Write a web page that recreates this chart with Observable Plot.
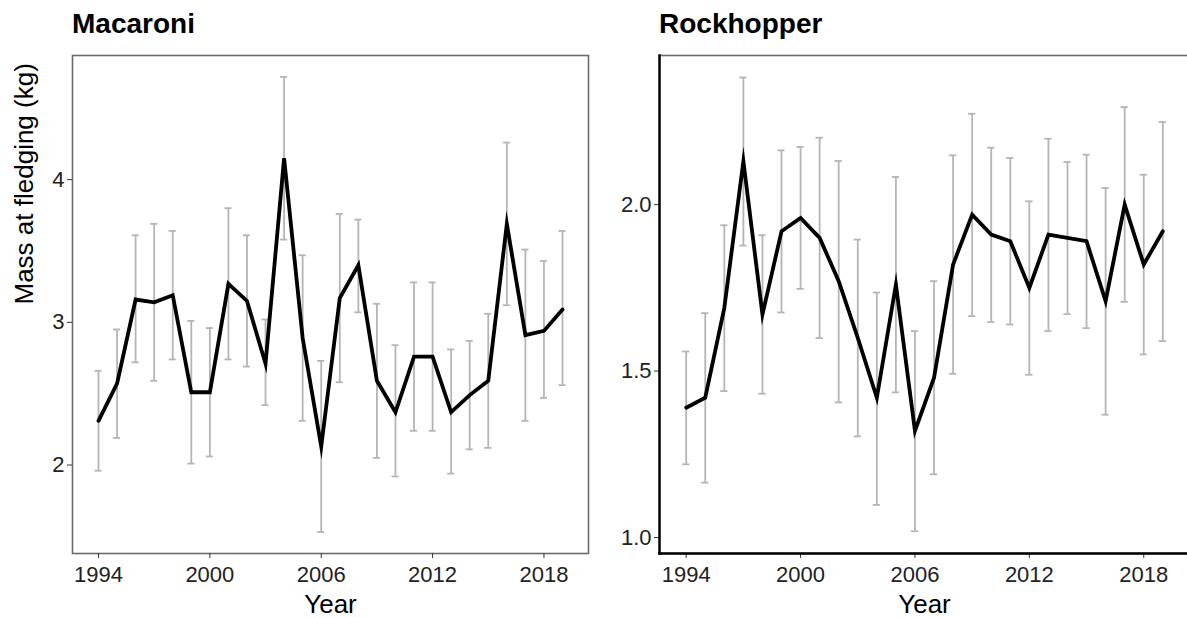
<!DOCTYPE html>
<html>
<head>
<meta charset="utf-8">
<script src="https://cdn.jsdelivr.net/npm/d3@7"></script>
<script src="https://cdn.jsdelivr.net/npm/@observablehq/plot@0.6"></script>
<style>
  html, body { margin: 0; padding: 0; background: #fff; overflow: hidden; width: 1187px; height: 618px; }
  .panel { position: absolute; top: 0; width: 600px; height: 618px; }
  .title { position: absolute; top: 10px; font-family: "Liberation Sans", Arial, sans-serif; font-weight: bold; font-size: 28px; line-height: 28px; color: #000; white-space: nowrap; }
  .panel svg { position: absolute; top: 45px; left: 0; }
</style>
</head>
<body>
<div id="mac" class="panel" style="left:0px"></div>
<div id="rock" class="panel" style="left:590px"></div>
<script>
// Breeding seasons
const years = [1994, 1995, 1996, 1997, 1998, 1999, 2000, 2001, 2002, 2003, 2004, 2005, 2006,
               2007, 2008, 2009, 2010, 2011, 2012, 2013, 2014, 2015, 2016, 2017, 2018, 2019];
const yearTicks = [1994, 2000, 2006, 2012, 2018];

// Macaroni penguin: mean fledging mass (kg) with lower/upper error bounds
const macMean = [2.31, 2.57, 3.16, 3.14, 3.19, 2.51, 2.51, 3.27, 3.15, 2.71, 4.15, 2.89, 2.13,
                 3.17, 3.40, 2.59, 2.37, 2.76, 2.76, 2.37, 2.49, 2.59, 3.69, 2.91, 2.94, 3.09];
const macLow  = [1.96, 2.19, 2.72, 2.59, 2.74, 2.01, 2.06, 2.74, 2.69, 2.42, 3.58, 2.31, 1.53,
                 2.58, 3.07, 2.05, 1.92, 2.24, 2.24, 1.94, 2.11, 2.12, 3.12, 2.31, 2.47, 2.56];
const macHigh = [2.66, 2.95, 3.61, 3.69, 3.64, 3.01, 2.96, 3.80, 3.61, 3.02, 4.72, 3.47, 2.73,
                 3.76, 3.72, 3.13, 2.84, 3.28, 3.28, 2.81, 2.87, 3.06, 4.26, 3.51, 3.43, 3.64];
const macTicks = [2, 3, 4];

// Rockhopper penguin: mean fledging mass (kg) with lower/upper error bounds
const rockMean = [1.39, 1.42, 1.69, 2.13, 1.67, 1.92, 1.96, 1.90, 1.77, 1.60, 1.42, 1.76, 1.32,
                  1.48, 1.82, 1.97, 1.91, 1.89, 1.75, 1.91, 1.90, 1.89, 1.71, 2.00, 1.82, 1.92];
const rockLow  = [1.22, 1.165, 1.44, 1.877, 1.432, 1.676, 1.747, 1.599, 1.406, 1.304, 1.098, 1.436, 1.019,
                  1.19, 1.492, 1.665, 1.647, 1.64, 1.489, 1.62, 1.671, 1.629, 1.369, 1.708, 1.55, 1.59];
const rockHigh = [1.559, 1.674, 1.938, 2.382, 1.908, 2.163, 2.173, 2.201, 2.131, 1.895, 1.736, 2.083, 1.62,
                  1.77, 2.148, 2.273, 2.171, 2.14, 2.01, 2.198, 2.128, 2.15, 2.05, 2.293, 2.09, 2.248];
const rockTicks = [1.0, 1.5, 2.0];

const FONT = '"Liberation Sans", Arial, sans-serif';
const CAP = 0.19; // half-width of error-bar caps, in years

function rows(mean, low, high) {
  return years.map((year, i) => ({year, mean: mean[i], low: low[i], high: high[i]}));
}

function panel({id, title, data, yDomain, yTicks, yFormat, marginLeft, marginRight, yLabel, classic}) {
  const marks = [
    Plot.frame({stroke: "#6b6b6b", strokeWidth: 1.6}),
    // error bars
    Plot.ruleX(data, {x: "year", y1: "low", y2: "high", stroke: "#b5b5b5", strokeWidth: 1.8}),
    Plot.ruleY(data, {y: "low", x1: d => d.year - CAP, x2: d => d.year + CAP, stroke: "#b5b5b5", strokeWidth: 1.8}),
    Plot.ruleY(data, {y: "high", x1: d => d.year - CAP, x2: d => d.year + CAP, stroke: "#b5b5b5", strokeWidth: 1.8}),
    // mean trajectory
    Plot.line(data, {x: "year", y: "mean", stroke: "#000", strokeWidth: 3.8, strokeLinejoin: "miter", strokeMiterlimit: 10}),
    Plot.axisX({ticks: yearTicks, tickFormat: "d", tickSize: 5, tickPadding: 8, label: null, stroke: "#333", fill: "#222", fontSize: 22}),
    Plot.axisY({ticks: yTicks, tickFormat: yFormat, tickSize: 5, tickPadding: 3, label: null, stroke: "#333", fill: "#222", fontSize: 22}),
    Plot.text(["Year"], {frameAnchor: "bottom", dy: 51, fontSize: 26, fill: "#000", lineAnchor: "middle"})
  ];
  if (classic) {
    marks.push(Plot.frame({anchor: "left", stroke: "#000", strokeWidth: 2.4}));
    marks.push(Plot.frame({anchor: "bottom", stroke: "#000", strokeWidth: 2.4}));
  }
  if (yLabel) {
    marks.push(Plot.text([yLabel], {frameAnchor: "left", rotate: -90, dx: -48, fontSize: 26, fill: "#000", lineAnchor: "middle"}));
  }
  const svg = Plot.plot({
    width: 600,
    height: 573,
    marginTop: 10,
    marginBottom: 65,
    marginLeft,
    marginRight,
    x: {domain: [1992.6, 2020.4]},
    y: {domain: yDomain},
    style: {fontFamily: FONT, fontSize: "22px", color: "#333", background: "transparent", overflow: "visible"},
    marks
  });
  const host = document.getElementById(id);
  const t = document.createElement("div");
  t.className = "title";
  t.style.left = marginLeft + "px";
  t.textContent = title;
  host.appendChild(t);
  host.appendChild(svg);
}

panel({id: "mac", title: "Macaroni", data: rows(macMean, macLow, macHigh),
       yDomain: [1.38, 4.87], yTicks: macTicks, yFormat: "d",
       marginLeft: 72, marginRight: 12, yLabel: "Mass at fledging (kg)", classic: false});
panel({id: "rock", title: "Rockhopper", data: rows(rockMean, rockLow, rockHigh),
       yDomain: [0.952, 2.448], yTicks: rockTicks, yFormat: ".1f",
       marginLeft: 69, marginRight: 1, yLabel: null, classic: true});
</script>
</body>
</html>
